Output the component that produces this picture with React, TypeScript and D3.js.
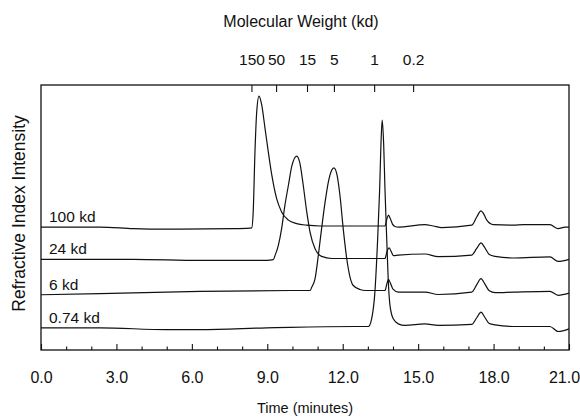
import { useEffect, useRef } from 'react';
import * as d3 from 'd3';

const WIDTH = 580;
const HEIGHT = 418;
const FONT = "'Liberation Sans', Arial, Helvetica, sans-serif";

// retention time (minutes) / refractive index response
const t100 = [0, 2.35, 3.67, 5.0, 7.65, 8.3, 8.38, 8.44, 8.51, 8.58, 8.67, 8.78, 8.91, 9.04, 9.18, 9.37, 9.57, 9.84, 10.17, 10.57, 11.1, 12.5, 13.68, 13.76, 13.82, 13.9, 13.98, 14.08, 14.21, 15.27, 15.6, 15.94, 17.13, 17.33, 17.5, 17.6, 17.73, 17.99, 18.79, 19.19, 20.24, 20.57, 20.84, 21.0];
const v100 = [46.3, 46.3, 45.7, 45.5, 45.7, 45.9, 46.0, 52.0, 74.7, 89.9, 95.8, 92.4, 83.6, 74.7, 65.9, 57.1, 52.0, 48.9, 47.6, 47.0, 46.7, 46.7, 46.7, 49.5, 50.8, 49.3, 47.4, 46.5, 46.3, 47.2, 46.7, 46.1, 47.0, 50.1, 52.4, 51.4, 48.9, 47.2, 47.0, 47.2, 47.2, 45.7, 46.3, 46.3];

const t24 = [0, 3.67, 6.33, 8.98, 9.24, 9.31, 9.44, 9.57, 9.7, 9.84, 9.97, 10.17, 10.3, 10.43, 10.57, 10.7, 10.9, 11.16, 11.56, 12.5, 13.68, 13.76, 13.85, 13.93, 14.02, 14.21, 15.27, 15.8, 17.13, 17.33, 17.5, 17.65, 17.83, 18.06, 18.79, 20.24, 20.57, 21.0];
const v24 = [34.1, 34.1, 33.7, 33.7, 34.0, 35.6, 39.4, 45.7, 54.5, 62.1, 69.1, 73.1, 70.3, 62.1, 52.0, 44.4, 38.1, 35.2, 34.4, 34.4, 34.4, 37.0, 38.4, 37.0, 35.5, 35.7, 36.1, 35.1, 35.7, 38.2, 40.3, 38.5, 35.9, 35.2, 34.6, 35.0, 33.3, 34.1];

const t6 = [0, 2.35, 6.33, 9.9, 10.7, 10.77, 10.9, 11.03, 11.16, 11.3, 11.43, 11.56, 11.65, 11.76, 11.89, 12.02, 12.16, 12.29, 12.42, 12.69, 12.89, 13.68, 13.76, 13.82, 13.9, 14.0, 14.21, 15.27, 15.8, 17.13, 17.33, 17.5, 17.65, 17.83, 18.06, 18.79, 20.24, 20.57, 21.0];
const v6 = [20.7, 21.1, 22.0, 22.3, 22.3, 23.6, 26.8, 35.6, 45.7, 55.8, 63.4, 67.8, 68.7, 66.6, 58.3, 45.7, 34.4, 27.4, 24.2, 22.7, 22.3, 22.3, 25.0, 26.5, 25.0, 22.8, 21.7, 21.7, 20.8, 21.7, 24.5, 26.8, 24.8, 22.2, 21.5, 21.7, 22.0, 20.5, 21.3];

const t074 = [0, 2.35, 5.0, 6.33, 8.98, 9.9, 12.5, 13.02, 13.15, 13.28, 13.39, 13.47, 13.52, 13.57, 13.63, 13.68, 13.75, 13.81, 13.88, 14.01, 14.21, 14.48, 15.27, 15.8, 17.13, 17.33, 17.5, 17.65, 17.83, 18.06, 18.79, 20.24, 20.57, 21.0];
const v074 = [8.2, 8.2, 7.5, 7.5, 8.2, 8.4, 8.7, 8.7, 11.6, 21.7, 41.9, 60.9, 77.3, 86.7, 77.3, 60.9, 41.9, 26.4, 16.7, 11.6, 9.7, 9.1, 9.7, 9.1, 9.5, 12.0, 14.1, 12.2, 9.8, 9.3, 8.7, 8.7, 6.8, 7.8];

const seriesLabels = ['100 kd', '24 kd', '6 kd', '0.74 kd'];
const seriesTimes = [t100, t24, t6, t074];
const seriesValues = [v100, v24, v6, v074];

const timeMajor = [0, 3, 6, 9, 12, 15, 18, 21];
const timeMinor = [1, 2, 4, 5, 7, 8, 10, 11, 13, 14, 16, 17, 19, 20];

// molecular weight markers on the top axis, placed at their elution time
const mwTimes = [8.37, 9.35, 10.58, 11.65, 13.25, 14.8];
const mwLabels = ['150', '50', '15', '5', '1', '0.2'];

export default function App() {
  const svgRef = useRef<SVGSVGElement>(null);

  useEffect(() => {
    if (!svgRef.current) return;
    const margin = { top: 85, right: 11, bottom: 68, left: 41 };
    const innerW = WIDTH - margin.left - margin.right;
    const innerH = HEIGHT - margin.top - margin.bottom;

    const svg = d3.select(svgRef.current);
    svg.selectAll('*').remove();

    const g = svg.append('g').attr('transform', `translate(${margin.left},${margin.top})`);

    const x = d3.scaleLinear().domain([0, 21]).range([0, innerW]);
    const y = d3.scaleLinear().domain([0, 100]).range([innerH - 0.5, 0]);

    // traces
    const line = d3.line<[number, number]>()
      .x(d => x(d[0]))
      .y(d => y(d[1]))
      .curve(d3.curveMonotoneX);

    seriesLabels.forEach((label, i) => {
      const pts = seriesTimes[i].map((t, j) => [t, seriesValues[i][j]] as [number, number]);
      g.append('path')
        .attr('d', line(pts))
        .attr('fill', 'none')
        .attr('stroke', '#111')
        .attr('stroke-width', 1.2)
        .attr('stroke-linejoin', 'round');

      g.append('text')
        .attr('x', 8)
        .attr('y', y(seriesValues[i][0]) - 5)
        .attr('font-family', FONT)
        .attr('font-size', '15.5px')
        .attr('fill', '#111')
        .text(label);
    });

    // bottom axis: ticks pointing up into the plot
    const bottom = g.append('g').attr('transform', `translate(0,${innerH})`);
    bottom.call(
      d3.axisBottom(x).tickValues(timeMajor).tickSizeInner(-6).tickSizeOuter(0).tickPadding(22)
        .tickFormat(d => d3.format('.1f')(d as number))
    );
    bottom.append('g').call(
      d3.axisBottom(x).tickValues(timeMinor).tickSizeInner(-3.5).tickSizeOuter(0).tickFormat(() => '')
    );
    bottom.selectAll('text').attr('font-family', FONT).attr('font-size', '16px').attr('fill', '#111');
    // last label sits against the page edge
    bottom.selectAll('.tick text').filter(d => d === 21).attr('dx', -5);

    // top axis: molecular weight
    const top = g.append('g');
    top.call(
      d3.axisTop(x).tickValues(mwTimes).tickSizeInner(-7).tickSizeOuter(0).tickPadding(20)
        .tickFormat((d, i) => mwLabels[i])
    );
    top.selectAll('text').attr('font-family', FONT).attr('font-size', '15.5px').attr('fill', '#111');

    g.selectAll('.domain').remove();
    g.selectAll('.tick line').attr('stroke', '#111').attr('stroke-width', 1.1);

    // frame
    g.append('rect')
      .attr('x', 0)
      .attr('y', 0)
      .attr('width', innerW)
      .attr('height', innerH)
      .attr('fill', 'none')
      .attr('stroke', '#111')
      .attr('stroke-width', 1.3);

    // axis titles
    svg.append('text')
      .attr('x', 301)
      .attr('y', 27)
      .attr('text-anchor', 'middle')
      .attr('font-family', FONT)
      .attr('font-size', '16px')
      .attr('fill', '#111')
      .text('Molecular Weight (kd)');

    svg.append('text')
      .attr('x', margin.left + innerW / 2)
      .attr('y', 413)
      .attr('text-anchor', 'middle')
      .attr('font-family', FONT)
      .attr('font-size', '14.5px')
      .attr('fill', '#111')
      .text('Time (minutes)');

    svg.append('text')
      .attr('transform', `translate(25,${margin.top + innerH / 2 - 4}) rotate(-90)`)
      .attr('text-anchor', 'middle')
      .attr('font-family', FONT)
      .attr('font-size', '17.5px')
      .attr('fill', '#111')
      .text('Refractive Index Intensity');
  }, []);

  return (
    <svg
      ref={svgRef}
      width={WIDTH}
      height={HEIGHT}
      style={{ position: 'absolute', left: 0, top: 0, background: '#fff' }}
    />
  );
}
